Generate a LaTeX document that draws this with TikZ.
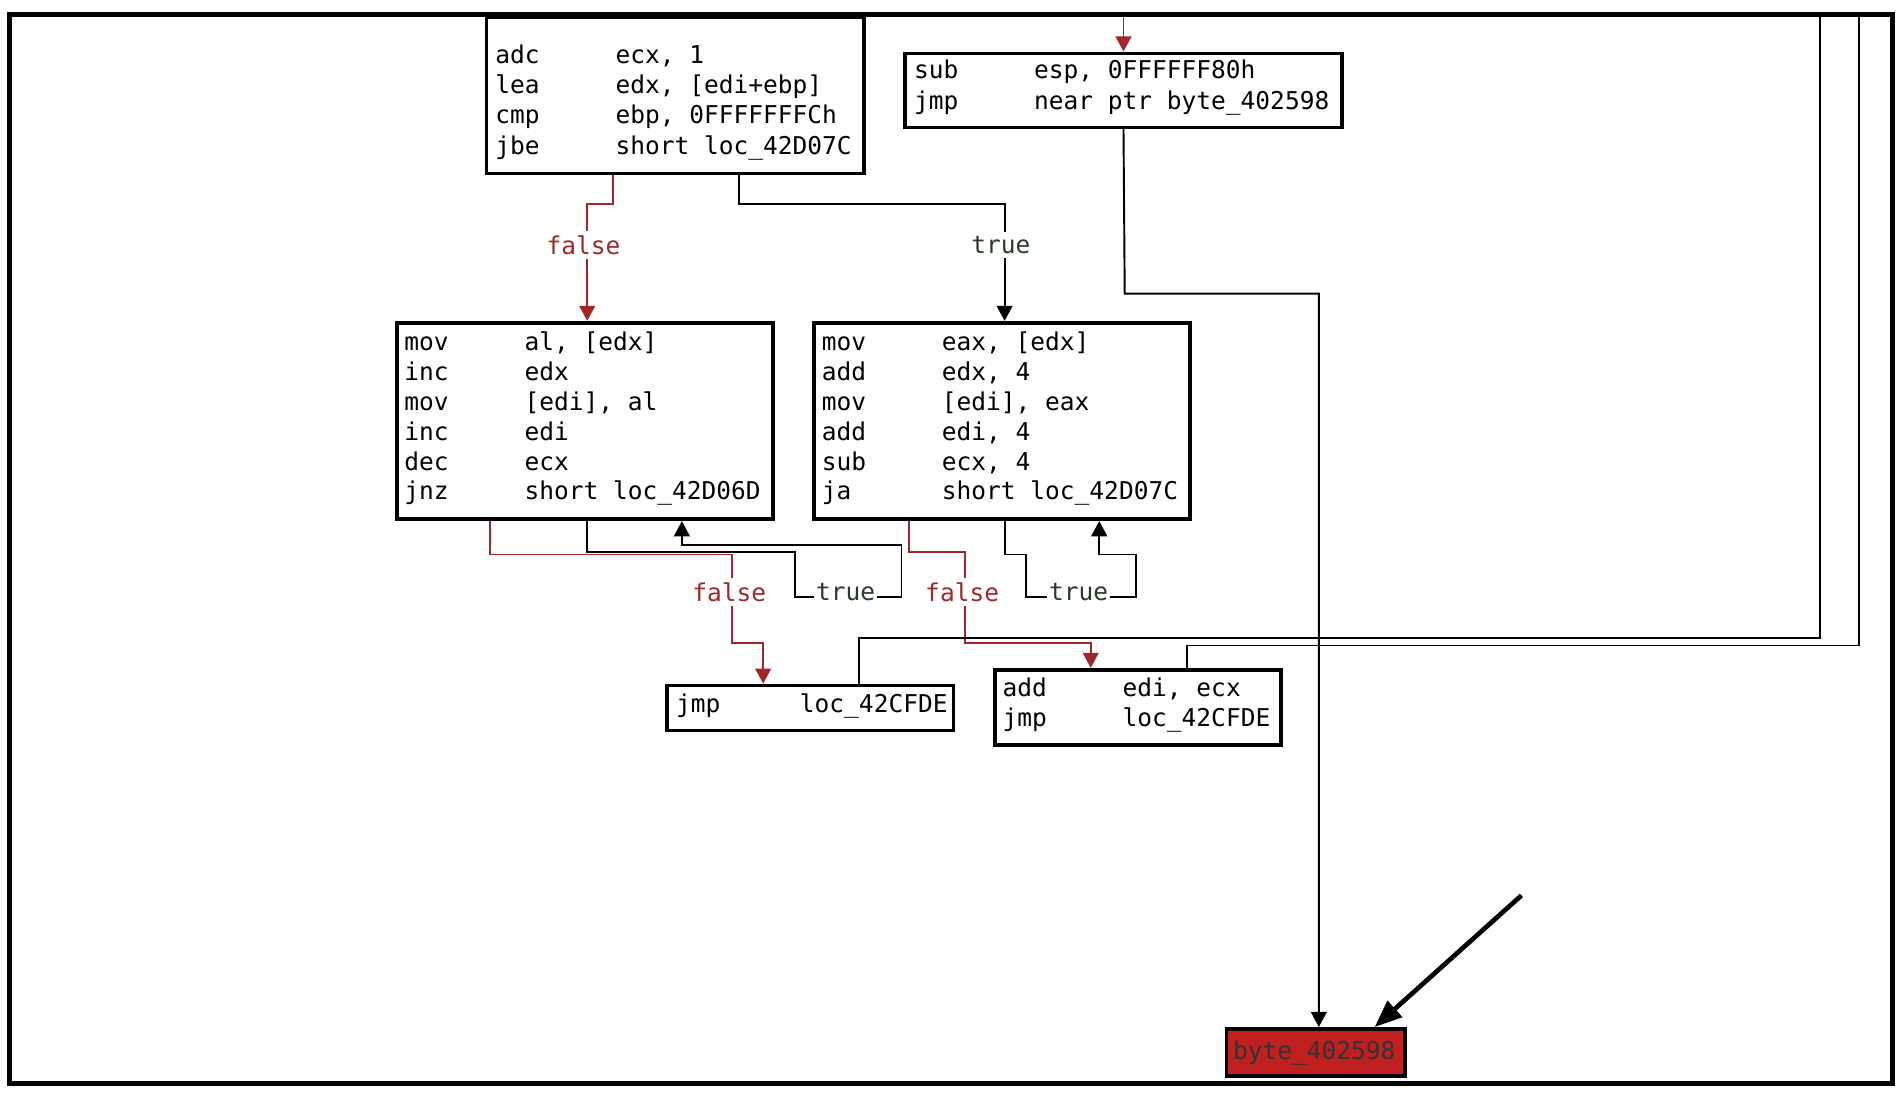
\documentclass[tikz,border=0pt]{standalone}
\usepackage{fontspec}
\setmonofont{DejaVu Sans Mono}
\usetikzlibrary{arrows.meta}
\definecolor{idared}{RGB}{160,40,40}
\definecolor{idafill}{RGB}{192,32,32}
\definecolor{idatrue}{RGB}{40,60,40}
\tikzset{
	blk/.style={draw, line width=1.7pt, fill=white, inner sep=0pt},
	asm/.style={anchor=base west, inner sep=0pt, font=\ttfamily\fontsize{11.5}{12}\selectfont},
	jf/.style={idared, line width=0.9pt},
	jt/.style={black, line width=0.9pt},
	tip/.style={-{Triangle[length=0.25cm,width=0.26cm]}},
	lbl/.style={fill=white, inner sep=2pt, font=\ttfamily\fontsize{11.5}{12}\selectfont}
}
\newcommand{\opd}[1]{\rlap{\hspace{1.98cm}#1}}
\begin{document}
\begin{tikzpicture}[x=0.02cm, y=-0.02cm]
	\useasboundingbox (0,0) rectangle (1566,902);
	\draw [line width=2.2pt] (8,12) rectangle (1560,893);

	% blocks
	\node [blk, minimum width=311*0.02cm, minimum height=129*0.02cm] (A) at (556.5,78.5) {};
	\node [blk, minimum width=360*0.02cm, minimum height=61*0.02cm] (B) at (926,74.5) {};
	\node [blk, minimum width=310*0.02cm, minimum height=162*0.02cm] (C) at (482,347) {};
	\node [blk, minimum width=310*0.02cm, minimum height=162*0.02cm] (D) at (826,347) {};
	\node [blk, minimum width=236*0.02cm, minimum height=37*0.02cm] (E) at (668,583.5) {};
	\node [blk, minimum width=236*0.02cm, minimum height=62*0.02cm] (F) at (938,583) {};
	\node [blk, fill=idafill, minimum width=147*0.02cm, minimum height=39*0.02cm] (G) at (1084.5,867.5) {};
	\node [asm, text=black!80] (Gt) at (1016,873) {byte\_402598};

	% block texts
	\foreach \m/\o [count=\i] in {adc/{ecx, 1},lea/{edx, [edi+ebp]},cmp/{ebp, 0FFFFFFFCh},jbe/{short loc\_42D07C}}
		\node [asm] (a\i) at (408,47+25*\i-20) {\opd{\o}\m};
	\foreach \m/\o [count=\i] in {sub/{esp, 0FFFFFF80h},jmp/{near ptr byte\_402598}}
		\node [asm] (b\i) at (753,65+25*\i-25) {\opd{\o}\m};
	\foreach \m/\o [count=\i] in {mov/{al, [edx]},inc/edx,mov/{[edi], al},inc/edi,dec/ecx,jnz/{short loc\_42D06D}}
		\node [asm] (c\i) at (333,289+24.6*\i-24.6) {\opd{\o}\m};
	\foreach \m/\o [count=\i] in {mov/{eax, [edx]},add/{edx, 4},mov/{[edi], eax},add/{edi, 4},sub/{ecx, 4},ja/{short loc\_42D07C}}
		\node [asm] (d\i) at (677,289+24.6*\i-24.6) {\opd{\o}\m};
	\node [asm] (e1) at (557,587) {\rlap{\hspace{2.04cm}loc\_42CFDE}jmp};
	\foreach \m/\o [count=\i] in {add/{edi, ecx},jmp/loc\_42CFDE}
		\node [asm] (f\i) at (826,574+25*\i-25) {\opd{\o}\m};

	% edges
	\coordinate (top) at (0,14);
	\draw [jf, tip] (top -| B) -- (B.north);
	\draw [jt, tip] (B.south) -- (927,242) -- (1087,242) -- (G.north -| 1087,0);
	\draw [jf, tip] (A.south -| 505,0) -- (505,168) -- (484,168) -- (C.north -| 484,0);
	\draw [jt, tip] (A.south -| 609,0) -- (609,168) -- (828,168) -- (D.north -| 828,0);
	\draw [jf, tip] (C.south -| 404,0) -- (404,457) -- (603,457) -- (603,530) -- (629,530) -- (E.north -| 629,0);
	\draw [jt, tip] (C.south -| 484,0) -- (484,455) -- (655,455) -- (655,492) -- (743,492) -- (743,449) -- (562,449) -- (C.south -| 562,0);
	\draw [jf, tip] (D.south -| 749,0) -- (749,455) -- (795,455) -- (795,530) -- (899,530) -- (F.north -| 899,0);
	\draw [jt, tip] (D.south -| 828,0) -- (828,457) -- (846,457) -- (846,492) -- (936,492) -- (936,457) -- (906,457) -- (D.south -| 906,0);
	\draw [jt] (E.north -| 708,0) -- (708,526) -- (1500,526) -- (1500,14);
	\draw [jt] (F.north -| 978,0) -- (978,532) -- (1532,532) -- (1532,14);

	% edge labels
	\node [lbl, text=idared] (l1) at (481,202) {false};
	\node [lbl, text=idatrue] (l2) at (825,202) {true};
	\node [lbl, text=idared] (l3) at (601,488) {false};
	\node [lbl, text=idatrue, inner sep=1pt] (l4) at (697,488) {true};
	\node [lbl, text=idared] (l5) at (793,488) {false};
	\node [lbl, text=idatrue, inner sep=1pt] (l6) at (889,488) {true};

	% pointer
	\coordinate (p0) at (1254,738);
	\draw [line width=2.2pt, -{Triangle[length=0.45cm,width=0.35cm]}] (p0) -- (G.north east -| 1133,823);
\end{tikzpicture}
\end{document}
